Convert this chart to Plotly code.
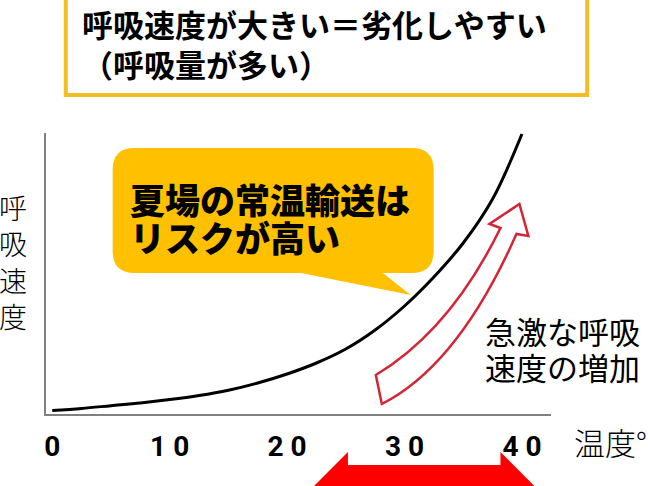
import plotly.graph_objects as go

# ---- data ----
temps = [0, 2.5, 5, 7.5, 10, 12.5, 15, 17.5, 20, 22.5, 25, 27.5, 30, 32.5, 35, 37.5, 40]
rates = [3.6, 5.6, 8.3, 11, 14.4, 18.5, 23.8, 31, 40, 51, 65, 84, 108, 137, 171, 215, 280]
tick_vals = [0, 10, 20, 30, 40]
tick_text = ['0', '1 0', '2 0', '3 0', '4 0']

title_lines = ['呼吸速度が大きい＝劣化しやすい', '（呼吸量が多い）']
bubble_lines = ['夏場の常温輸送は', 'リスクが高い']
note_lines = ['急激な呼吸', '速度の増加']
x_label = '温度°C'
y_label = '呼吸速度'

W, H = 648, 486
JP = 'Noto Sans CJK JP'


def X(x):
    return x / W


def Y(y):
    return 1 - y / H


def P(x, y):
    return f"{X(x):.5f},{Y(y):.5f}"


fig = go.Figure()
fig.add_trace(go.Scatter(x=temps, y=rates, mode='lines',
                         line=dict(color='black', width=3, shape='spline', smoothing=1),
                         hoverinfo='skip'))

# top framed box
shapes = [dict(type='rect', xref='paper', yref='paper',
               x0=X(64), x1=X(587), y0=Y(95), y1=Y(-10),
               line=dict(color='#F2BE22', width=4), fillcolor='white')]

# speech bubble
r = 22
L, R, T, B = 111, 433, 148, 273
bubble = (f"M {P(L+r,T)} L {P(R-r,T)} Q {P(R,T)} {P(R,T+r)} L {P(R,B-r)} "
          f"Q {P(R,B)} {P(R-r,B)} L {P(382,B)} L {P(410,295)} L {P(300,B)} "
          f"L {P(L+r,B)} Q {P(L,B)} {P(L,B-r)} L {P(L,T+r)} Q {P(L,T)} {P(L+r,T)} Z")
shapes.append(dict(type='path', xref='paper', yref='paper', path=bubble,
                   fillcolor='#FFC000', line=dict(width=0)))

# red outlined curved arrow
arrow = (f"M {P(375,375)} Q {P(450,330)} {P(500,228)} L {P(489,224)} "
         f"L {P(519,204)} L {P(528,236)} L {P(516,234)} "
         f"Q {P(458,365)} {P(381,404)} Z")
shapes.append(dict(type='path', xref='paper', yref='paper', path=arrow,
                   fillcolor='white', line=dict(color='#D42535', width=2.5)))

# red double arrow at bottom
dbl = (f"M {P(347,452)} L {P(347,465)} L {P(500,465)} L {P(500,452)} "
       f"L {P(545,497)} L {P(500,542)} L {P(500,530)} L {P(347,530)} "
       f"L {P(347,542)} L {P(302,497)} Z")
shapes.append(dict(type='path', xref='paper', yref='paper', path=dbl,
                   fillcolor='#FF0000', line=dict(width=0)))

ann = []
ann.append(dict(x=X(78), y=Y(43.5), xref='paper', yref='paper', xanchor='left',
                yanchor='middle', align='left', showarrow=False,
                text='<br>'.join(title_lines),
                font=dict(family=JP, size=31, color='black', weight=700)))
for i, t in enumerate(bubble_lines):
    ann.append(dict(x=X(126), y=Y(198 + 38 * i), xref='paper', yref='paper',
                    xanchor='left', yanchor='middle', showarrow=False, text=t,
                    font=dict(family=JP, size=35, color='black', weight=900)))
for i, t in enumerate(note_lines):
    ann.append(dict(x=X(482), y=Y(330 + 36 * i), xref='paper', yref='paper',
                    xanchor='left', yanchor='middle', showarrow=False, text=t,
                    font=dict(family=JP, size=31, color='black', weight=400)))
ann.append(dict(x=X(572), y=Y(441), xref='paper', yref='paper', xanchor='left',
                yanchor='middle', showarrow=False, text=x_label,
                font=dict(family=JP, size=31, color='black', weight=300)))
ann.append(dict(x=X(11), y=Y(261), xref='paper', yref='paper', xanchor='center',
                yanchor='middle', showarrow=False, text='<br>'.join(y_label),
                font=dict(family=JP, size=28, color='black', weight=300)))

fig.update_layout(
    width=W, height=H, autosize=False,
    margin=dict(l=0, r=0, t=0, b=0, pad=0),
    paper_bgcolor='white', plot_bgcolor='white',
    showlegend=False,
    shapes=shapes, annotations=ann,
    xaxis=dict(domain=[44.5 / W, 551 / W], range=[-0.5, 42.5],
               showline=True, linecolor='#808080', linewidth=1.5,
               showgrid=False, zeroline=False, ticks='',
               tickvals=tick_vals, ticktext=tick_text,
               ticklabelstandoff=7,
               tickfont=dict(family='Roboto', size=28, color='black', weight='bold')),
    yaxis=dict(domain=[(H - 414) / H, (H - 133) / H], range=[0, 281],
               showline=True, linecolor='#808080', linewidth=1.5,
               showgrid=False, zeroline=False, showticklabels=False, ticks=''),
)

fig.write_html('out.html', config={'displayModeBar': False},
               post_script="document.body.style.margin='0';document.body.style.overflow='hidden';")
